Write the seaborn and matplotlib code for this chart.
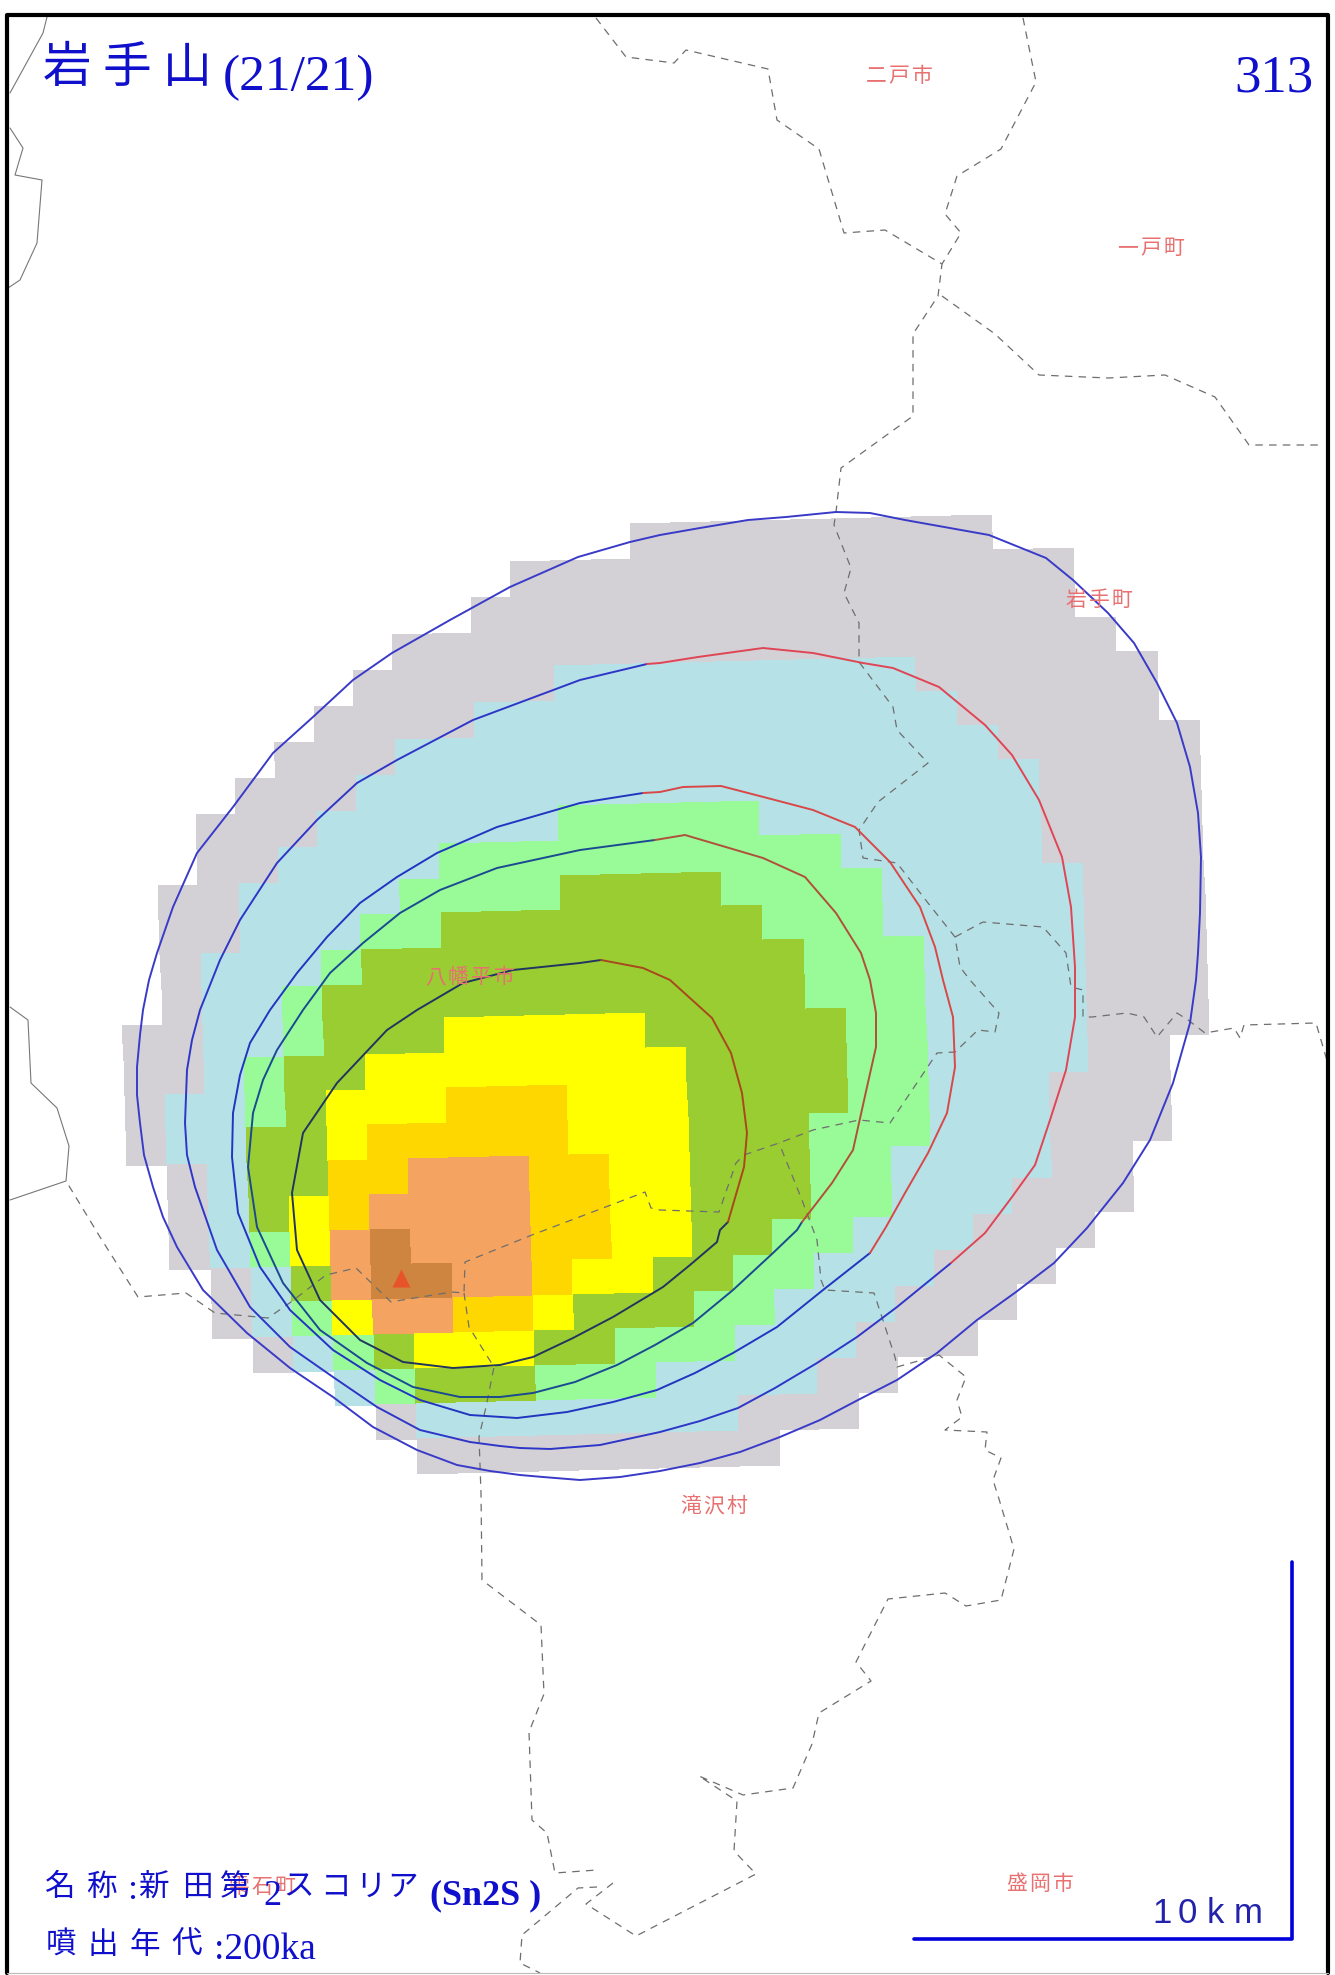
import numpy as np
import pandas as pd
import matplotlib
matplotlib.use("Agg")
import matplotlib.pyplot as plt
from matplotlib.colors import ListedColormap
from matplotlib.transforms import Affine2D
import seaborn as sns

# thickness classes per grid cell, '.' = no deposit
LEVEL_ROWS = [
    ".............000000000.....",
    "..........00000000000000...",
    ".........000000000000000...",
    ".......000000000000000000..",
    "......00000111111111000000.",
    ".....0000111111111111000000"[:26] + ".",
    "....000111111111111111" + "00000",
    "...00011111111111111111" + "0000",
    "..000111111" + "22222" + "1111111" + "0000",
    "..00" + "1111" + "2222222222" + "11111" + "0000",
    ".00" + "1111" + "2222" + "3333" + "2222" + "11111" + "000",
    ".00" + "111" + "22" + "33333333" + "222" + "11111" + "000",
    ".0" + "111" + "2" + "33333333333" + "222" + "1111" + "000",
    ".0" + "11" + "2" + "333333333333" + "222" + "1111" + "000",
    "00" + "11" + "2" + "333" + "44444" + "33333" + "22" + "1111" + "000",
    "00" + "1" + "2" + "33" + "44444444" + "3333" + "22" + "1111" + "00.",
    "0" + "11" + "2" + "3" + "444" + "555" + "444" + "3333" + "22" + "111" + "000.",
    "0" + "11" + "33" + "4" + "55555" + "444" + "333" + "222" + "111" + "000.",
    ".0" + "1" + "33" + "55" + "666" + "55" + "44" + "333" + "22" + "1111" + "00..",
    ".0" + "1" + "3" + "4" + "5" + "6666" + "55" + "44" + "333" + "22" + "111" + "000..",
    ".0" + "1" + "2" + "4" + "6" + "7" + "666" + "55" + "44" + "33" + "22" + "111" + "000...",
    "..0" + "1" + "3" + "6" + "77" + "66" + "5" + "44" + "33" + "22" + "111" + "000....",
    "..0" + "1" + "2" + "4" + "66" + "55" + "4" + "333" + "22" + "111" + "000.....",
    "...0" + "1" + "2" + "3" + "444" + "33" + "222" + "111" + "000......",
    ".....1" + "2" + "333" + "222" + "1111" + "00........",
    "......0" + "11111111" + "000.........",
    ".......000000000...........",
]
LEVEL_COLORS = ["#D3D1D6", "#B6E1E7", "#98FB98", "#9ACD32",
                "#FFFF00", "#FFD700", "#F4A460", "#CD853F"]

# isopach contours in picture pixels, blue and red stretches
CONTOUR_A = [(836, 512), (870, 513), (905, 520), (989, 535), (1046, 558), (1073, 580), (1108, 613),
             (1134, 643), (1157, 683), (1177, 723), (1190, 767), (1198, 813), (1201, 857), (1200, 913),
             (1198, 953), (1196, 980), (1190, 1023), (1173, 1083), (1150, 1140), (1123, 1183),
             (1087, 1228), (1054, 1263), (1016, 1292), (977, 1320), (937, 1353), (897, 1380),
             (858, 1400), (820, 1420), (780, 1437), (740, 1452), (700, 1463), (660, 1471), (620, 1477),
             (580, 1480), (543, 1477), (520, 1475), (490, 1471), (457, 1465), (417, 1450), (373, 1427),
             (333, 1397), (290, 1368), (247, 1333), (203, 1290), (177, 1247), (163, 1217), (153, 1187),
             (144, 1155), (140, 1123), (137, 1095), (137, 1067), (140, 1035), (143, 1010), (149, 980),
             (157, 953), (173, 907), (197, 853), (233, 807), (273, 753), (313, 717), (353, 680),
             (392, 653), (450, 620), (510, 587), (578, 557), (630, 542), (660, 535), (700, 528),
             (748, 520), (786, 517), (836, 512)]
CONTOUR_B_BLUE = [(951, 1263), (897, 1307), (857, 1337), (817, 1363), (775, 1388), (738, 1408), (700, 1421),
                  (660, 1432), (600, 1445), (550, 1449), (520, 1448), (500, 1446), (470, 1442), (420, 1430),
                  (377, 1407), (333, 1377), (290, 1347), (250, 1307), (217, 1250), (195, 1187), (187, 1155),
                  (185, 1123), (187, 1070), (192, 1040), (200, 1010), (220, 960), (240, 920), (277, 863),
                  (317, 820), (357, 783), (397, 760), (473, 720), (580, 680), (647, 664)]
CONTOUR_B_RED = [(647, 664), (660, 663), (698, 657), (763, 648), (813, 653), (863, 663), (893, 668), (939, 687),
                 (985, 725), (1012, 755), (1039, 800), (1062, 857), (1071, 907), (1075, 967), (1075, 1017),
                 (1066, 1070), (1050, 1120), (1035, 1165), (1012, 1197), (985, 1233), (951, 1263)]
CONTOUR_C_BLUE = [(870, 1253), (823, 1290), (777, 1327), (733, 1353), (695, 1373), (657, 1390), (613, 1402),
                  (567, 1412), (517, 1418), (470, 1415), (420, 1400), (380, 1380), (333, 1350), (290, 1310),
                  (260, 1267), (238, 1213), (232, 1157), (233, 1113), (240, 1075), (250, 1043), (270, 1010),
                  (297, 973), (327, 937), (360, 903), (397, 877), (437, 853), (497, 827), (580, 803), (643, 793)]
CONTOUR_C_RED = [(643, 793), (660, 792), (683, 787), (721, 786), (775, 800), (813, 810), (855, 827), (890, 862),
                 (920, 907), (935, 947), (943, 980), (953, 1017), (955, 1067), (947, 1113), (928, 1153),
                 (905, 1193), (886, 1227), (870, 1253)]
CONTOUR_D_BLUE = [(802, 1222), (797, 1230), (773, 1253), (733, 1290), (693, 1323), (655, 1345), (617, 1365),
                  (575, 1382), (533, 1393), (500, 1397), (460, 1397), (413, 1387), (367, 1363), (320, 1330),
                  (283, 1283), (257, 1227), (248, 1167), (253, 1113), (263, 1080), (277, 1050), (303, 1010),
                  (330, 973), (363, 943), (400, 913), (440, 890), (497, 868), (580, 850), (655, 840)]
CONTOUR_D_RED = [(655, 840), (685, 835), (763, 858), (805, 877), (836, 913), (861, 953), (870, 980), (876, 1013),
                 (876, 1047), (867, 1087), (853, 1150), (832, 1183), (802, 1222)]
CONTOUR_E_BLUE = [(728, 1222), (720, 1230), (717, 1242), (690, 1265), (663, 1287), (613, 1317), (573, 1338),
                  (533, 1357), (500, 1365), (453, 1368), (403, 1362), (360, 1340), (320, 1300), (297, 1250),
                  (292, 1193), (303, 1133), (337, 1083), (387, 1030), (417, 1010), (463, 983), (513, 970),
                  (580, 963), (601, 960)]
CONTOUR_E_RED = [(601, 960), (643, 968), (670, 980), (712, 1018), (731, 1053), (742, 1093), (747, 1133),
                 (744, 1167), (728, 1222)]

# municipal borders (dashed) and coast-like prefecture lines (solid)
BORDER_MAIN = [(596, 18), (626, 57), (674, 63), (686, 50), (768, 69), (777, 120), (819, 149), (844, 233),
               (885, 230), (942, 264), (938, 296), (913, 334), (913, 416), (841, 468), (836, 512), (834, 525),
               (851, 568), (844, 593), (859, 623), (859, 662), (893, 707), (897, 730), (928, 763), (878, 802),
               (859, 830), (863, 858), (897, 863), (928, 903), (955, 937), (960, 967), (970, 980), (999, 1013),
               (995, 1032), (978, 1030), (955, 1052), (937, 1053), (890, 1123), (859, 1120), (813, 1130),
               (779, 1143), (744, 1155), (736, 1163), (719, 1212), (660, 1210), (651, 1208), (645, 1192),
               (532, 1235), (465, 1262), (464, 1293), (452, 1292), (402, 1300), (391, 1302), (356, 1268),
               (326, 1275), (291, 1302), (268, 1318), (215, 1313), (186, 1293), (138, 1297), (100, 1237),
               (66, 1181)]
BORDER_NE = [(1023, 18), (1036, 82), (1001, 149), (957, 176), (945, 214), (961, 233), (942, 264)]
BORDER_E = [(942, 296), (995, 334), (1039, 375), (1108, 378), (1165, 375), (1215, 397), (1249, 445), (1322, 445)]
BORDER_MID = [(955, 937), (983, 922), (1043, 927), (1066, 953), (1071, 987), (1083, 990), (1083, 1017),
              (1092, 1017), (1127, 1013), (1144, 1017), (1157, 1037), (1177, 1013), (1188, 1020), (1205, 1033),
              (1234, 1028), (1240, 1038), (1244, 1025), (1316, 1023), (1328, 1064)]
BORDER_S = [(464, 1293), (469, 1327), (494, 1367), (486, 1407), (479, 1437), (481, 1493), (482, 1580),
            (541, 1625), (544, 1694), (529, 1732), (532, 1820), (547, 1833), (555, 1873), (597, 1870)]
BORDER_SE = [(613, 1883), (586, 1904), (636, 1936), (756, 1874), (734, 1851), (737, 1801), (699, 1776),
             (743, 1795), (793, 1788), (812, 1744), (819, 1713), (871, 1681), (856, 1662), (888, 1599),
             (945, 1593), (966, 1606), (1001, 1600), (1014, 1549), (999, 1499), (993, 1480), (1001, 1458),
             (985, 1450), (987, 1432), (945, 1430), (962, 1417), (957, 1400), (966, 1377), (939, 1355),
             (897, 1367), (895, 1357), (874, 1293), (825, 1290), (821, 1280), (817, 1240), (802, 1200),
             (779, 1143)]
BORDER_SW = [(597, 1887), (578, 1888), (522, 1935), (520, 1963), (540, 1973)]
COAST_1 = [(47, 17), (43, 33), (10, 93)]
COAST_2 = [(10, 128), (23, 148), (15, 175), (42, 180), (37, 243), (20, 280), (8, 288)]
COAST_3 = [(10, 1007), (28, 1020), (31, 1083), (57, 1108), (69, 1146), (66, 1181), (10, 1200)]

# place labels: name, centre x, centre y, letter step
PLACES = [("二戸市", 899, 76, 23), ("一戸町", 1151, 248, 23), ("岩手町", 1099, 600, 23),
          ("八幡平市", 470, 977, 23), ("滝沢村", 714, 1506, 23), ("雫石町", 262, 1887, 23),
          ("盛岡市", 1040, 1884, 23)]
VENT_X = [401]
VENT_Y = [1278]


def draw_line(ax, points, color, lw=1.4, **kw):
    df = pd.DataFrame(points, columns=["x", "y"])
    sns.lineplot(data=df, x="x", y="y", sort=False, estimator=None, color=color,
                 linewidth=lw, ax=ax, legend=False, **kw)


def spaced(ax, text, xs, y, size, color, family="Noto Sans CJK JP"):
    for ch, x in zip(text, xs):
        ax.text(x, y, ch, fontsize=size, color=color, family=family, ha="center", va="center")


sns.set_theme(style="white")
plt.rcParams["font.family"] = ["Noto Sans CJK JP", "Liberation Serif", "DejaVu Sans"]

fig = plt.figure(figsize=(13.35, 19.75), dpi=100)
ax = fig.add_axes([0, 0, 1, 1])

levels = pd.DataFrame([[np.nan if ch == "." else int(ch) for ch in row] for row in LEVEL_ROWS])
sns.heatmap(levels, cmap=ListedColormap(LEVEL_COLORS), vmin=-0.5, vmax=7.5, cbar=False,
            xticklabels=False, yticklabels=False, ax=ax)
# the grid sits slightly rotated on the map
mesh = ax.collections[0]
mesh.set_transform(Affine2D.from_values(40.2, -1, 1.1, 34.95, 107, 537) + ax.transData)

for place, cx, cy, step in PLACES:
    xs = [cx + (i - (len(place) - 1) / 2) * step for i in range(len(place))]
    spaced(ax, place, xs, cy, 15, "#E87070")

for border in [BORDER_MAIN, BORDER_NE, BORDER_E, BORDER_MID, BORDER_S, BORDER_SE, BORDER_SW]:
    draw_line(ax, border, "#6E6E6E", lw=0.9, linestyle=(0, (6, 5)))
for coast in [COAST_1, COAST_2, COAST_3]:
    draw_line(ax, coast, "#777777", lw=0.8)

draw_line(ax, CONTOUR_A, "#3A3AC8")
draw_line(ax, CONTOUR_B_BLUE, "#2E36C8")
draw_line(ax, CONTOUR_B_RED, "#E04555")
draw_line(ax, CONTOUR_C_BLUE, "#2036C0")
draw_line(ax, CONTOUR_C_RED, "#D84848")
draw_line(ax, CONTOUR_D_BLUE, "#1A4A90")
draw_line(ax, CONTOUR_D_RED, "#B0503A")
draw_line(ax, CONTOUR_E_BLUE, "#203560")
draw_line(ax, CONTOUR_E_RED, "#A8481C")

sns.scatterplot(x=VENT_X, y=VENT_Y, marker="^", s=170, color="#E8542A", linewidth=0, ax=ax, legend=False)

# title block
blue = "#1010CC"
spaced(ax, "岩手山", [67, 127, 187], 68, 35, blue)
ax.text(223, 90, "(21/21)", fontsize=37, color=blue, family="Liberation Serif", ha="left", va="baseline")
ax.text(1313, 91, "313", fontsize=38, color=blue, family="Liberation Serif", ha="right", va="baseline")

spaced(ax, "名称", [59, 101], 1887, 22, blue)
ax.text(132, 1899, ":", fontsize=26, color=blue, family="Liberation Serif", ha="center", va="baseline")
spaced(ax, "新田第", [153, 197, 235], 1887, 22, blue)
ax.text(272, 1905, "2", fontsize=26, color=blue, family="Liberation Serif", ha="center", va="baseline")
spaced(ax, "スコリア", [299, 335, 371, 402], 1887, 22, blue)
ax.text(430, 1904, "(Sn2S )", fontsize=26, color=blue, family="Liberation Serif", weight="bold",
        ha="left", va="baseline")
spaced(ax, "噴出年代", [61, 103, 145, 187], 1945, 22, blue)
ax.text(214, 1959, ":200ka", fontsize=27, color=blue, family="Liberation Serif", ha="left", va="baseline")

# scale bar
draw_line(ax, [(914, 1939), (1292, 1939), (1292, 1562)], "#0000DD", lw=2.6)
for ch, x in zip("10km", [1162, 1187, 1215, 1248]):
    ax.text(x, 1923, ch, fontsize=25, color="#2222AA", family="Liberation Sans", ha="center", va="baseline")

# frame
draw_line(ax, [(7, 1973), (7, 15), (1328, 15), (1328, 1973)], "black", lw=3.0)
draw_line(ax, [(7, 1973), (1328, 1973)], "#BBBBBB", lw=0.8)

ax.set_xlim(0, 1335)
ax.set_ylim(1975, 0)
ax.set_xlabel("")
ax.set_ylabel("")
ax.set_xticks([])
ax.set_yticks([])
for spine in ax.spines.values():
    spine.set_visible(False)

fig.savefig("out.png", dpi=100)
